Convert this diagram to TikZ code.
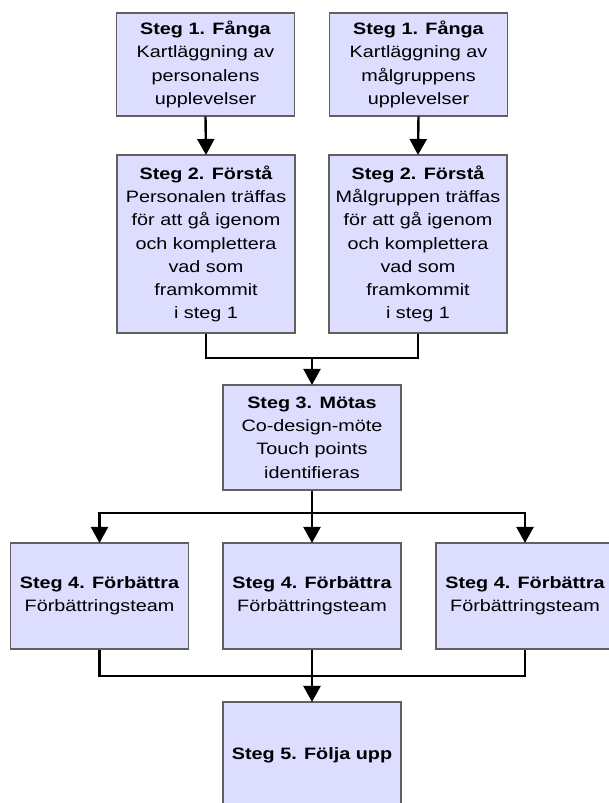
\documentclass[tikz,border=0pt]{standalone}
\usepackage{fontspec}
\setmainfont{Liberation Sans}[FakeStretch=1.2]
\usetikzlibrary{arrows.meta}
\definecolor{boxfill}{HTML}{DDDDFF}
\definecolor{boxline}{HTML}{606060}
\tikzset{
  stepbox/.style={draw=boxline, line width=1.1pt, fill=boxfill, rectangle,
    minimum width=178pt, inner sep=0pt, align=center,
    font=\fontsize{16.5}{23.3}\selectfont},
  conn/.style={line width=2.4pt, black},
  arr/.style={conn, -{Triangle[width=17pt,length=16pt]}, shorten >=-0.5pt}
}
\begin{document}
\begin{tikzpicture}[x=1pt,y=-1pt]
\useasboundingbox (0,0) rectangle (608,803);
\node[stepbox, minimum height=103pt] (b1a) at (205.5,64.5) {\textbf{Steg 1. Fånga}\\Kartläggning av\\personalens\\upplevelser};
\node[stepbox, minimum height=103pt] (b1b) at (418.5,64.5) {\textbf{Steg 1. Fånga}\\Kartläggning av\\målgruppens\\upplevelser};
\node[stepbox, minimum height=178pt] (b2a) at (206,244) {\textbf{Steg 2. Förstå}\\Personalen träffas\\för att gå igenom\\och komplettera\\vad som\\framkommit\\i steg 1};
\node[stepbox, minimum height=178pt] (b2b) at (418,244) {\textbf{Steg 2. Förstå}\\Målgruppen träffas\\för att gå igenom\\och komplettera\\vad som\\framkommit\\i steg 1};
\node[stepbox, minimum height=105pt] (b3) at (312,437.5) {\textbf{Steg 3. Mötas}\\Co-design-möte\\Touch points\\identifieras};
\node[stepbox, minimum height=106pt] (b4a) at (99.5,596) {\textbf{Steg 4. Förbättra}\\Förbättringsteam};
\node[stepbox, minimum height=106pt] (b4b) at (312,596) {\textbf{Steg 4. Förbättra}\\Förbättringsteam};
\node[stepbox, minimum height=106pt] (b4c) at (525,596) {\textbf{Steg 4. Förbättra}\\Förbättringsteam};
\node[stepbox, minimum height=106pt] (b5) at (312,755) {\textbf{Steg 5. Följa upp}};
\coordinate (j1) at (312,358);
\coordinate (j2) at (312,513);
\coordinate (j3) at (312,676);
\draw[arr] (b1a.south) -- (b2a.north);
\draw[arr] (b1b.south) -- (b2b.north);
\draw[conn] (b2a.south) |- (j1) -| (b2b.south);
\draw[arr] (j1) -- (b3.north);
\draw[conn] (b3.south) -- (j2);
\draw[arr] (j2) -| (b4a.north);
\draw[arr] (j2) -| (b4c.north);
\draw[arr] (j2) -- (b4b.north);
\draw[conn] (b4a.south) |- (j3) -| (b4c.south);
\draw[conn] (b4b.south) -- (j3);
\draw[arr] (j3) -- (b5.north);
\end{tikzpicture}
\end{document}
